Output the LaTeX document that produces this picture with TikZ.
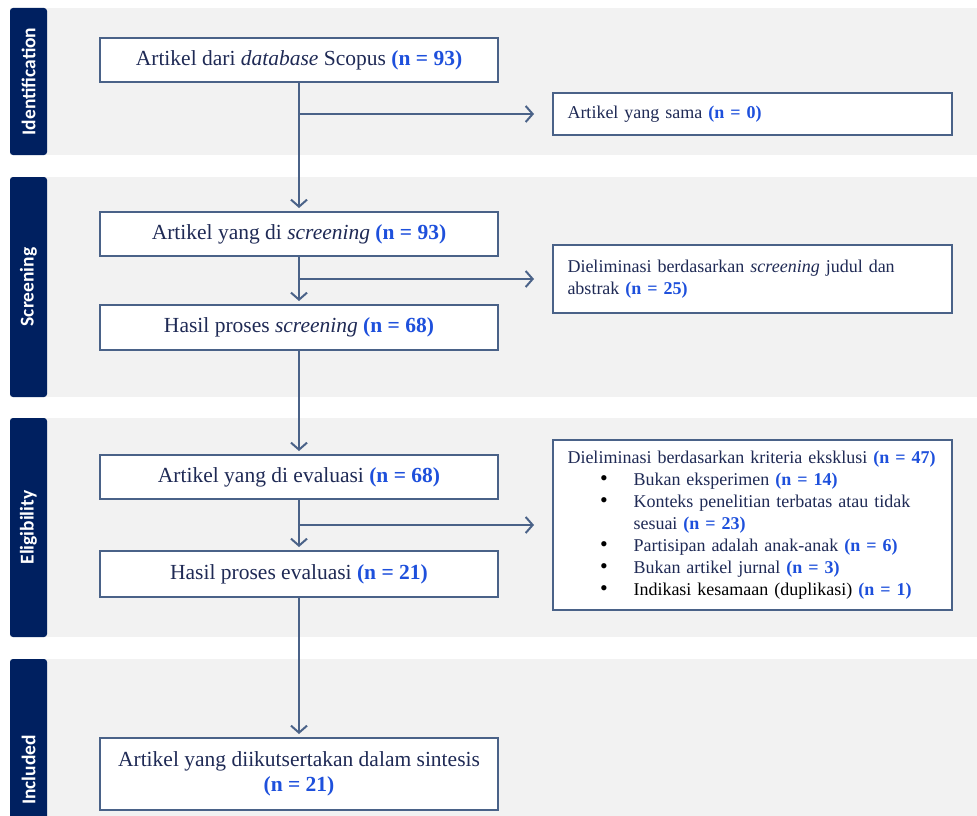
\documentclass[tikz,border=0pt]{standalone}
\usepackage{fontspec}
\setmainfont{Liberation Serif}
\newfontfamily\labfont{Carlito}
\usetikzlibrary{arrows.meta}
\definecolor{bandgray}{RGB}{242,242,242}
\definecolor{barnavy}{RGB}{0,32,96}
\definecolor{edgecol}{RGB}{74,98,136}
\definecolor{txt}{RGB}{31,42,85}
\definecolor{nblue}{RGB}{30,80,220}
\newcommand{\nval}[1]{\textcolor{nblue}{\textbf{(n = #1)}}}
\newcommand{\bul}{\makebox[66pt][l]{\hspace*{32.5pt}\textcolor{black}{\smash{\raisebox{-0.6pt}{\fontsize{22}{22}\selectfont\textbullet}}}}}
\begin{document}
\begin{tikzpicture}[x=1pt,y=-1pt,
  box/.style={draw=edgecol, line width=2pt, fill=white, text=txt, inner sep=0pt},
  mainbox/.style={box, minimum width=398pt, font=\fontsize{21.5}{25}\selectfont, align=center},
  sidebox/.style={box, minimum width=399pt, text width=370pt, align=left, font=\fontsize{18}{22}\selectfont},
  band/.style={fill=bandgray, draw=none},
  bar/.style={fill=barnavy, rounded corners=3pt},
  lab/.style={rotate=90, text=white, font=\labfont\bfseries\fontsize{19.5}{22}\selectfont},
  conn/.style={draw=edgecol, line width=2pt},
  arr/.style={conn, -{Straight Barb[length=7pt,width=16pt]}}
]
\useasboundingbox (0,0) rectangle (977,816);
% bands
\fill[band] (10,8) rectangle (977,155);
\fill[band] (10,177) rectangle (977,397);
\fill[band] (10,418) rectangle (977,637);
\fill[band] (10,659) rectangle (977,816);
% bars
\fill[bar] (10,8) rectangle (47,155);
\fill[bar] (10,177) rectangle (47,397);
\fill[bar] (10,418) rectangle (47,637);
\fill[bar] (10,659) rectangle (47,830);
\node[lab] (lid) at (28.5,81.5) {Identification};
\node[lab] (lsc) at (28.5,287) {Screening};
\node[lab] (lel) at (28.5,527.5) {Eligibility};
\node[lab] (lin) at (28.5,770) {Included};
% main boxes
\node[mainbox, minimum height=44pt] (b1) at (299,60) {Artikel dari \textit{database} Scopus \nval{93}};
\node[mainbox, minimum height=44pt] (b2) at (299,234) {Artikel yang di \textit{screening} \nval{93}};
\node[mainbox, minimum height=45pt] (b3) at (299,327.5) {Hasil proses \textit{screening} \nval{68}};
\node[mainbox, minimum height=44pt] (b4) at (299,477) {Artikel yang di evaluasi \nval{68}};
\node[mainbox, minimum height=46pt] (b5) at (299,574) {Hasil proses evaluasi \nval{21}};
\node[mainbox, minimum height=72pt] (b6) at (299,774) {Artikel yang diikutsertakan dalam sintesis\\\nval{21}};
% side boxes
\node[sidebox, minimum height=42pt] (s1) at (752.5,114) {Artikel yang sama \nval{0}};
\node[sidebox, minimum height=68pt] (s2) at (752.5,279) {Dieliminasi berdasarkan \textit{screening} judul dan\\abstrak \nval{25}};
\node[sidebox, minimum height=170pt] (s3) at (752.5,525) {Dieliminasi berdasarkan kriteria eksklusi \nval{47}\\
\bul Bukan eksperimen \nval{14}\\
\bul Konteks penelitian terbatas atau tidak\\
\hspace*{66pt}sesuai \nval{23}\\
\bul Partisipan adalah anak-anak \nval{6}\\
\bul Bukan artikel jurnal \nval{3}\\
\bul\textcolor{black}{Indikasi kesamaan (duplikasi)} \nval{1}};
% connectors
\draw[arr, shorten >=3pt] (b1.south) -- (b2.north);
\draw[arr, shorten >=18pt] (b1.south |- s1.west) -- (s1.west);
\draw[arr, shorten >=3pt] (b2.south) -- (b3.north);
\draw[arr, shorten >=18pt] (b2.south |- s2.west) -- (s2.west);
\draw[arr, shorten >=3pt] (b3.south) -- (b4.north);
\draw[arr, shorten >=3pt] (b4.south) -- (b5.north);
\draw[arr, shorten >=18pt] (b4.south |- s3.west) -- (s3.west);
\draw[arr, shorten >=3pt] (b5.south) -- (b6.north);
\end{tikzpicture}
\end{document}
